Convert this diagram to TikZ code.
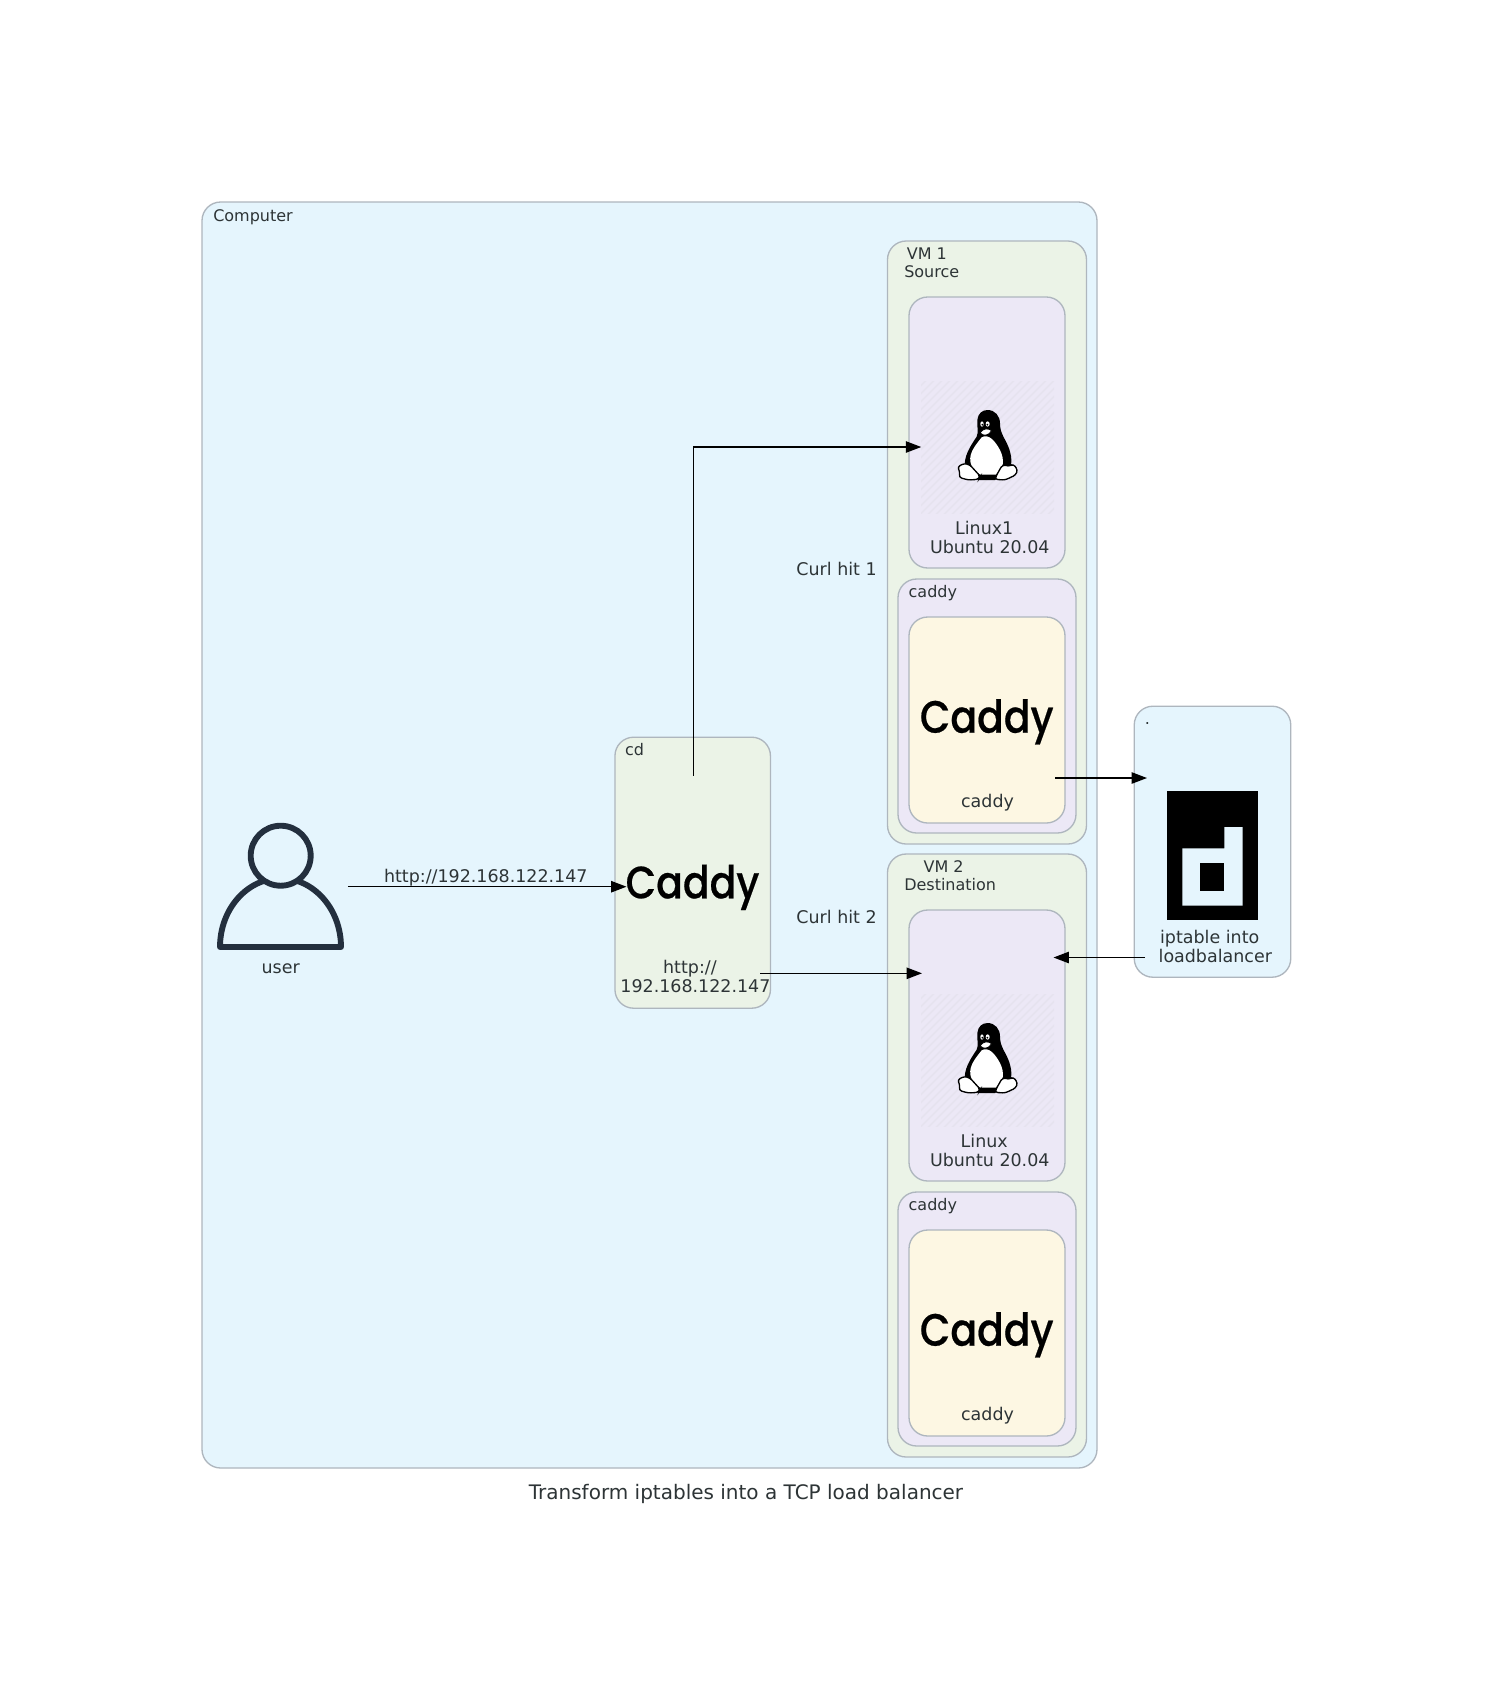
\documentclass[tikz,border=0pt]{standalone}
\usepackage{fontspec}
\setmainfont{DejaVu Sans}
\newfontfamily\caddyfont[FakeBold=0.5]{Poppins Medium}
\usetikzlibrary{arrows.meta}
\tikzset{
  boxnode/.style args={#1/#2}{draw=boxline, line width=1pt, rounded corners=14pt, inner sep=0pt,
    minimum width=#1*0.75pt, minimum height=#2*0.75pt},
  iconbg/.style={inner sep=0pt, minimum width=133*0.75pt, minimum height=132*0.75pt},
  clusterlabel/.style={text=labeltext, inner sep=0pt, anchor=base west, align=left, font=\fontsize{12}{13.5}\selectfont},
  nodelabel/.style={text=labeltext, inner sep=0pt, anchor=base, align=center, font=\fontsize{13.1}{14.25}\selectfont},
  caddylogo/.style={text=black, inner sep=0pt, anchor=base, font=\caddyfont\fontsize{34}{34}\selectfont},
  edgeline/.style={line width=1pt, -{Triangle[length=11.5pt,width=8.5pt]}},
  tuxlogo/.pic={
    \begin{scope}
      \clip (-66.5,-66) rectangle (66.5,66);
      \foreach \d in {-136,-128,...,136}
        \draw[hatchline, line width=1.2pt] (\d-70,70) -- (\d+70,-70);
    \end{scope}
    \begin{scope}[shift={(-42.5,-47)},x=0.25pt,y=-0.25pt]
      \fill[black] (128,30) .. controls (150,30) and (165,48) .. (165,70) .. controls (165,100) and (180,115) .. (190,140) .. controls (200,165) and (203,190) .. (192,215) -- (150,240) -- (100,240) -- (60,205) .. controls (55,170) and (75,140) .. (95,110) .. controls (102,95) and (95,80) .. (97,60) .. controls (99,40) and (112,30) .. (128,30) -- cycle;
      \fill[white] (110,112) .. controls (130,100) and (150,122) .. (165,150) .. controls (180,180) and (174,205) .. (160,224) -- (106,224) .. controls (82,210) and (66,185) .. (82,152) .. controls (90,136) and (100,125) .. (110,112) -- cycle;
      \draw[fill=white, line width=1pt, rounded corners=2pt] (38,200) -- (58,190) -- (75,195) -- (105,228) -- (100,238) -- (70,240) -- (42,232) -- (45,218) -- cycle;
      \draw[fill=white, line width=1pt, rounded corners=2pt] (172,195) -- (195,198) -- (205,192) -- (218,210) -- (212,225) -- (180,240) -- (150,238) -- (155,225) -- cycle;
      \fill[white] (111,72) ellipse[x radius=5, y radius=8];
      \fill[white] (128,72) ellipse[x radius=6, y radius=8];
      \fill[black] (112,74) circle[radius=3];
      \fill[black] (127,74) circle[radius=3];
      \draw[fill=white, line width=0.6pt] (105,98) .. controls (115,110) and (130,108) .. (140,92) .. controls (130,84) and (115,84) .. (105,98) -- cycle;
    \end{scope}
  }
}
\begin{document}
\begin{tikzpicture}[x=0.75pt,y=-0.75pt]
\definecolor{boxline}{HTML}{AEB6BE}
\definecolor{labeltext}{HTML}{2D3436}
\definecolor{hatchline}{HTML}{E6E3EF}
\definecolor{navy}{HTML}{232F3E}
\definecolor{lightblue}{HTML}{E5F5FD}
\definecolor{lightgreen}{HTML}{EBF3E7}
\definecolor{lightpurple}{HTML}{ECE8F6}
\definecolor{lightyellow}{HTML}{FDF7E3}
\useasboundingbox[fill=white] (0,0) rectangle (1493,1704);

\node[boxnode=895/1266, fill=lightblue] (computer) at (649.5,835) {};
\node[clusterlabel] (computerlabel) at (213,221.7) {Computer};

\node[boxnode=199/603, fill=lightgreen] (vm1) at (987,542.5) {};
\node[clusterlabel] (vm1label) at (904,277.3) {\hspace*{1.9pt}VM 1\\Source};
\node[boxnode=156/271, fill=lightpurple] (linux1) at (987,432.5) {};
\node[iconbg] (linuxicon1) at (988,447) {};
\pic at (987.5,447) {tuxlogo};
\node[nodelabel] (linux1label) at (987,553.3) {Linux1~\mbox{}\\~Ubuntu 20.04};
\node[boxnode=178/254, fill=lightpurple] (caddybox1) at (987,706) {};
\node[clusterlabel] (caddybox1label) at (908.4,597) {caddy};
\node[boxnode=156/206, fill=lightyellow] (caddy1) at (987,720) {};
\node[caddylogo] (caddyicon1) at (986.7,732.7) {\scalebox{0.87}[1]{Caddy}};
\node[nodelabel] (caddy1label) at (987.5,807.7) {caddy};

\node[boxnode=199/603, fill=lightgreen] (vm2) at (987,1155.5) {};
\node[clusterlabel] (vm2label) at (904,890.3) {\hspace*{14.5pt}VM 2\\Destination};
\node[boxnode=156/271, fill=lightpurple] (linux2) at (987,1045.5) {};
\node[iconbg] (linuxicon2) at (988,1060) {};
\pic at (987.5,1060) {tuxlogo};
\node[nodelabel] (linux2label) at (987,1166.3) {Linux~\mbox{}\\~Ubuntu 20.04};
\node[boxnode=178/254, fill=lightpurple] (caddybox2) at (987,1319) {};
\node[clusterlabel] (caddybox2label) at (908.4,1210) {caddy};
\node[boxnode=156/206, fill=lightyellow] (caddy2) at (987,1333) {};
\node[caddylogo] (caddyicon2) at (986.7,1345.7) {\scalebox{0.87}[1]{Caddy}};
\node[nodelabel] (caddy2label) at (987.5,1420.7) {caddy};

\node[boxnode=155.5/271, fill=lightgreen] (cd) at (692.7,872.7) {};
\node[clusterlabel] (cdlabel) at (624.8,755) {cd};
\node[caddylogo] (cdicon) at (692.5,898.3) {\scalebox{0.87}[1]{Caddy}};
\node[nodelabel] (cdtext) at (692.7,992.7) {http://~\mbox{}\\~192.168.122.147};

\node[boxnode=156.5/271, fill=lightblue] (balancer) at (1212.5,841.7) {};
\node[clusterlabel] (balancerlabel) at (1144.5,724) {.};
\node[nodelabel] (balancertext) at (1212.5,962) {iptable into~\mbox{}\\~loadbalancer};
\node[fill=black, inner sep=0pt, minimum width=90.4*0.75pt, minimum height=129.3*0.75pt] (balancericon) at (1212.5,855.6) {};
\fill[lightblue] (1182.3,848.3) -- (1224.3,848.3) -- (1224.3,827) -- (1242.7,827) -- (1242.7,905.7) -- (1182.3,905.7) -- cycle;
\fill[black] (1200.3,863.3) rectangle (1224.3,890.7);

\node[iconbg] (user) at (281,886.7) {};
\draw[navy, line width=4.4pt, line join=round] (220,947) arc[start angle=180, end angle=360, x radius=60.5, y radius=68.7] -- cycle;
\draw[navy, line width=4.4pt, fill=lightblue] (280.7,855.7) circle[radius=30];
\node[nodelabel] (userlabel) at (280.7,973.3) {user};

\coordinate (cdin) at (626.5,886.7);
\coordinate (cdup) at (693.3,775.8);
\coordinate (cdout) at (760,973.3);
\coordinate (linuxin) at (922,973.3);
\coordinate (caddyout) at (1055,778);
\coordinate (balancerin) at (1147,778);
\coordinate (balancerout) at (1145,957.5);
\coordinate (linuxback) at (1053.5,957.5);

\path[draw,edgeline] (user.east) -- (cdin);
\path[draw,edgeline] (cdup) |- (linuxicon1.west);
\path[draw,edgeline] (cdout) -- (linuxin);
\path[draw,edgeline] (caddyout) -- (balancerin);
\path[draw,edgeline] (balancerout) -- (linuxback);

\node[nodelabel] (edgetext) at (485.8,882.7) {http://192.168.122.147};
\node[nodelabel] (curl1) at (836.6,575.8) {Curl hit 1};
\node[nodelabel] (curl2) at (836.6,923.5) {Curl hit 2};
\node[nodelabel, font=\fontsize{15}{17}\selectfont] (title) at (746,1499.5) {Transform iptables into a TCP load balancer};
\end{tikzpicture}
\end{document}
